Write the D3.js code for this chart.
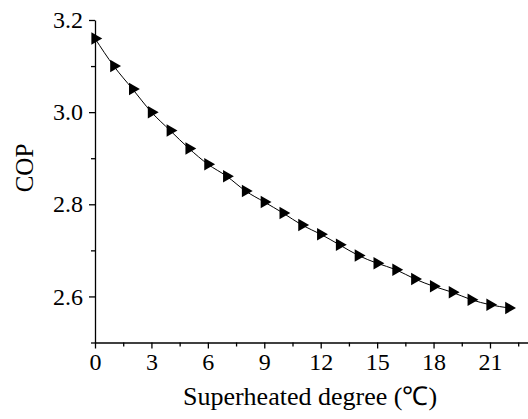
<!DOCTYPE html>
<html>
<head>
<meta charset="UTF-8">
<title>COP</title>
<script src="https://d3js.org/d3.v7.min.js"></script>
<style>
  body { margin: 0; background: #fff; }
</style>
</head>
<body>
<div id="chart"></div>
<script>
// superheated degree (x) and COP (y)
var superheat = [0, 1, 2, 3, 4, 5, 6, 7, 8, 9, 10, 11, 12, 13, 14, 15, 16, 17, 18, 19, 20, 21, 22];
var cop = [3.160, 3.100, 3.050, 3.000, 2.960, 2.921, 2.887, 2.861, 2.829, 2.805, 2.781, 2.755,
           2.735, 2.712, 2.689, 2.672, 2.658, 2.638, 2.622, 2.609, 2.593, 2.582, 2.575];
var xTicks = [0, 3, 6, 9, 12, 15, 18, 21];
var yTicks = [2.6, 2.8, 3.0, 3.2];

var width = 528, height = 419;
var serif = "'Liberation Serif', 'Times New Roman', serif";

var svg = d3.select("#chart").append("svg")
  .attr("width", width)
  .attr("height", height);

var x = d3.scaleLinear().domain([0, 23]).range([95, 527.6]);
var y = d3.scaleLinear().domain([2.5, 3.2]).range([342.5, 20]);

// minor ticks
var xMinor = d3.range(1.5, 23, 3);
var yMinor = d3.range(2.5, 3.2, 0.2);

svg.append("g")
  .attr("transform", "translate(0," + y(2.5) + ")")
  .call(d3.axisBottom(x).tickValues(xMinor).tickSize(4).tickFormat(""))
  .call(function(g) { g.select(".domain").remove(); });

svg.append("g")
  .attr("transform", "translate(" + x(0) + ",0)")
  .call(d3.axisLeft(y).tickValues(yMinor).tickSize(4).tickFormat(""))
  .call(function(g) { g.select(".domain").remove(); });

var xAxis = svg.append("g")
  .attr("transform", "translate(0," + y(2.5) + ")")
  .call(d3.axisBottom(x).tickValues(xTicks).tickSize(6).tickSizeOuter(0).tickPadding(4).tickFormat(d3.format("d")));

var yAxis = svg.append("g")
  .attr("transform", "translate(" + x(0) + ",0)")
  .call(d3.axisLeft(y).tickValues(yTicks).tickSize(6).tickSizeOuter(0).tickPadding(6).tickFormat(d3.format(".1f")));

[xAxis, yAxis].forEach(function(g) {
  g.attr("font-family", serif).attr("font-size", 24);
  g.selectAll("text")
    .style("font-family", serif)
    .style("font-size", "24px")
    .attr("fill", "#000");
});
svg.selectAll(".domain, .tick line").attr("stroke", "#000").attr("stroke-width", 1.3);

// curve
var line = d3.line()
  .x(function(d, i) { return x(superheat[i]); })
  .y(function(d) { return y(d); })
  .curve(d3.curveMonotoneX);

svg.append("path")
  .datum(cop)
  .attr("d", line)
  .attr("fill", "none")
  .attr("stroke", "#000")
  .attr("stroke-width", 1);

// right-pointing triangle markers
var tri = d3.symbol().type(d3.symbolTriangle).size(68);
svg.selectAll(".pt")
  .data(cop)
  .enter().append("path")
  .attr("class", "pt")
  .attr("d", tri)
  .attr("transform", function(d, i) { return "translate(" + x(superheat[i]) + "," + y(d) + ") rotate(90)"; })
  .attr("fill", "#000");

// axis titles
svg.append("text")
  .attr("x", 310)
  .attr("y", 405)
  .attr("text-anchor", "middle")
  .style("font-family", serif)
  .style("font-size", "26px")
  .text("Superheated degree (℃)");

svg.append("text")
  .attr("transform", "translate(33,168) rotate(-90)")
  .attr("text-anchor", "middle")
  .style("font-family", serif)
  .style("font-size", "25px")
  .text("COP");
</script>
</body>
</html>
